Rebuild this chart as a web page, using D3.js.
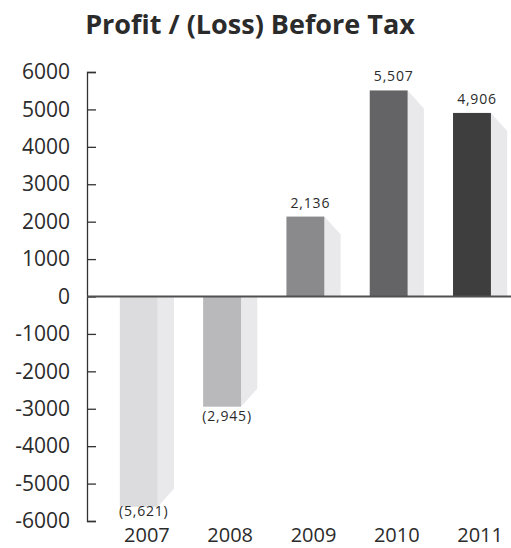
<!DOCTYPE html>
<html>
<head>
<meta charset="utf-8">
<script src="https://cdn.jsdelivr.net/npm/d3@7"></script>
<style>
  html, body { margin: 0; padding: 0; background: #fff; }
  svg { display: block; font-family: "Open Sans", sans-serif; }
</style>
</head>
<body>
<svg id="chart" width="511" height="548"></svg>
<script>
// Profit / (loss) before tax by year
const years = ["2007", "2008", "2009", "2010", "2011"];
const profit = [-5621, -2945, 2136, 5507, 4906];
const valueLabels = ["(5,621)", "(2,945)", "2,136", "5,507", "4,906"];
const barColors = ["#dcdcde", "#b9b9bc", "#8a8a8d", "#646466", "#3e3e3e"];
const yTicks = [6000, 5000, 4000, 3000, 2000, 1000, 0, -1000, -2000, -3000, -4000, -5000, -6000];

const svg = d3.select("#chart");
const textColor = "#2b2b2b";
const axisX = 87;
const yearBaseline = 542;

const y = d3.scaleLinear().domain([-6000, 6000]).range([521, 72]);
const x = d3.scaleBand().domain(years).range([99, 528]).paddingInner(0.35).paddingOuter(0.25);

const barW = x.bandwidth() * 0.7;
const sideW = x.bandwidth() - barW;
const drop = 18;
const y0 = y(0);

// Title
svg.append("text")
  .attr("x", 250).attr("y", 34)
  .attr("text-anchor", "middle")
  .attr("font-size", 27).attr("font-weight", 700)
  .attr("fill", textColor)
  .text("Profit / (Loss) Before Tax");

const data = years.map((yr, i) => ({ yr, v: profit[i], label: valueLabels[i], color: barColors[i] }));

// Side faces giving the bars depth
svg.append("g").selectAll("path").data(data).join("path")
  .attr("fill", "#e9e9eb")
  .attr("d", d => {
    const bx = x(d.yr) + barW;
    const ye = y(d.v);
    if (d.v >= 0) {
      return `M${bx},${ye}L${bx + sideW},${ye + drop}L${bx + sideW},${y0}L${bx},${y0}Z`;
    }
    return `M${bx},${y0}L${bx + sideW},${y0}L${bx + sideW},${ye - drop}L${bx},${ye}Z`;
  });

// Front faces
svg.append("g").selectAll("rect").data(data).join("rect")
  .attr("x", d => x(d.yr))
  .attr("width", barW)
  .attr("y", d => Math.min(y(d.v), y0))
  .attr("height", d => Math.abs(y(d.v) - y0))
  .attr("fill", d => d.color);

// Y axis: ticks point into the plot, bracket ends at top and bottom
const yAxis = d3.axisLeft(y)
  .tickValues(yTicks)
  .tickFormat(d3.format("d"))
  .tickSizeInner(-9)
  .tickSizeOuter(-9)
  .tickPadding(17);

const gy = svg.append("g")
  .attr("transform", `translate(${axisX},0)`)
  .call(yAxis);
gy.selectAll("path, line").attr("stroke", "#333").attr("stroke-width", 1.3);
gy.selectAll("text")
  .attr("font-size", 21)
  .attr("font-family", "'Open Sans', sans-serif")
  .attr("fill", textColor)
  .text(d => d < 0 ? "-" + Math.abs(d) : d);

// Zero line
svg.append("line")
  .attr("x1", axisX).attr("x2", 511)
  .attr("y1", y0).attr("y2", y0)
  .attr("stroke", "#505050").attr("stroke-width", 2);

// Value labels (negative ones kept clear of the year labels)
svg.append("g").selectAll("text").data(data).join("text")
  .attr("x", d => x(d.yr) + barW / 2 + 5)
  .attr("y", d => d.v >= 0 ? y(d.v) - 9 : Math.min(y(d.v) + 14, yearBaseline - 26))
  .attr("text-anchor", "middle")
  .attr("font-size", 14)
  .attr("letter-spacing", 0.8)
  .attr("fill", textColor)
  .text(d => d.label);

// Year labels
svg.append("g").selectAll("text").data(data).join("text")
  .attr("x", d => x(d.yr) + x.bandwidth() / 2)
  .attr("y", yearBaseline)
  .attr("text-anchor", "middle")
  .attr("font-size", 20)
  .attr("fill", textColor)
  .text(d => d.yr);
</script>
</body>
</html>
